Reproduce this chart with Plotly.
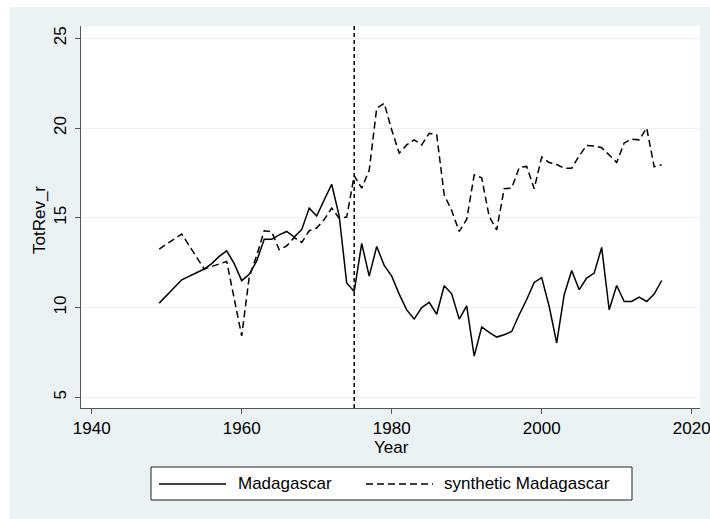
import plotly.graph_objects as go

years = [1949, 1952, 1955, 1956, 1957, 1958, 1959, 1960, 1961, 1962, 1963, 1964,
         1965, 1966, 1967, 1968, 1969, 1970, 1971, 1972, 1973, 1974, 1975, 1976,
         1977, 1978, 1979, 1980, 1981, 1982, 1983, 1984, 1985, 1986, 1987, 1988,
         1989, 1990, 1991, 1992, 1993, 1994, 1995, 1996, 1997, 1998, 1999, 2000,
         2001, 2002, 2003, 2004, 2005, 2006, 2007, 2008, 2009, 2010, 2011, 2012,
         2013, 2014, 2015, 2016]

madagascar = [10.25, 11.55, 12.15, 12.45, 12.85, 13.16, 12.45, 11.5, 11.85, 12.6, 13.8, 13.8,
              14.05, 14.24, 13.93, 14.34, 15.54, 15.1, 16.0, 16.87, 15.1, 11.37, 10.9, 13.57,
              11.75, 13.4, 12.35, 11.75, 10.75, 9.87, 9.36, 10.0, 10.29, 9.63, 11.22, 10.77,
              9.36, 10.1, 7.3, 8.92, 8.62, 8.36, 8.49, 8.67, 9.6, 10.45, 11.4, 11.67,
              10.06, 8.03, 10.72, 12.07, 11.0, 11.64, 11.92, 13.35, 9.88, 11.23, 10.34, 10.34,
              10.59, 10.34, 10.75, 11.51]

synthetic = [13.26, 14.1, 12.15, 12.3, 12.45, 12.57, 10.5, 8.43, 11.7, 12.9, 14.28, 14.22,
             13.22, 13.44, 13.9, 13.63, 14.28, 14.43, 14.9, 15.54, 14.98, 15.04, 17.35, 16.65,
             17.65, 21.1, 21.38, 19.9, 18.6, 19.06, 19.34, 19.06, 19.71, 19.62, 16.28, 15.4,
             14.24, 14.91, 17.39, 17.23, 15.07, 14.33, 16.62, 16.65, 17.8, 17.86, 16.62, 18.38,
             18.08, 17.97, 17.76, 17.76, 18.45, 19.03, 19.0, 18.9, 18.5, 18.08, 19.17, 19.38,
             19.34, 20.0, 17.84, 17.95]

series_names = ["Madagascar", "synthetic Madagascar"]
treatment_year = 1975
x_ticks = [1940, 1960, 1980, 2000, 2020]
y_ticks = [5, 10, 15, 20, 25]
x_title = "Year"
y_title = "TotRev_r"

W, H = 710, 519
L, R, T, B = 81, 700, 26, 408
PW, PH = R - L, B - T


def px(x):  # window pixel x -> paper
    return (x - L) / PW


def py(y):  # window pixel y -> paper
    return (B - y) / PH


BG = "#EAF2F3"
FONT = "Liberation Sans, Arial, sans-serif"

fig = go.Figure()
fig.add_trace(go.Scatter(x=years, y=madagascar, mode="lines", name=series_names[0],
                         line=dict(color="black", width=1.5), showlegend=False))
fig.add_trace(go.Scatter(x=years, y=synthetic, mode="lines", name=series_names[1],
                         line=dict(color="black", width=1.5, dash="7px,4px"), showlegend=False))

shapes = [
    dict(type="line", xref="x", yref="paper", x0=treatment_year, x1=treatment_year, y0=0, y1=1,
         line=dict(color="black", width=1.5, dash="4px,3px")),
    # white outer frame strips (left and top)
    dict(type="rect", xref="paper", yref="paper", x0=px(-2), x1=px(10), y0=py(H + 2), y1=py(-2),
         fillcolor="white", line=dict(width=0)),
    dict(type="rect", xref="paper", yref="paper", x0=px(-2), x1=px(W + 2), y0=py(7), y1=py(-2),
         fillcolor="white", line=dict(width=0)),
    # legend box
    dict(type="rect", xref="paper", yref="paper", x0=px(151), x1=px(632), y0=py(500), y1=py(467),
         fillcolor="white", line=dict(color="#222222", width=1)),
    dict(type="line", xref="paper", yref="paper", x0=px(159), x1=px(226), y0=py(484), y1=py(484),
         line=dict(color="black", width=1.5)),
    dict(type="line", xref="paper", yref="paper", x0=px(366), x1=px(433), y0=py(484), y1=py(484),
         line=dict(color="black", width=1.5, dash="7px,4px")),
]

annotations = [
    dict(text=series_names[0], xref="paper", yref="paper", x=px(236), y=py(484),
         xanchor="left", yanchor="middle", showarrow=False, font=dict(size=17, color="black", family=FONT)),
    dict(text=series_names[1], xref="paper", yref="paper", x=px(442), y=py(484),
         xanchor="left", yanchor="middle", showarrow=False, font=dict(size=17, color="black", family=FONT)),
    dict(text=x_title, xref="paper", yref="paper", x=px(391), y=py(448),
         xanchor="center", yanchor="middle", showarrow=False, font=dict(size=17, color="black", family=FONT)),
    dict(text=y_title, xref="paper", yref="paper", x=px(39), y=py(220), textangle=-90,
         xanchor="center", yanchor="middle", showarrow=False, font=dict(size=17, color="black", family=FONT)),
]

fig.update_layout(
    width=W, height=H,
    margin=dict(l=L, r=W - R, t=T, b=H - B, pad=0, autoexpand=False),
    paper_bgcolor=BG, plot_bgcolor="white",
    font=dict(family=FONT, size=17, color="black"),
    shapes=shapes, annotations=annotations,
    showlegend=False,
)
fig.update_xaxes(range=[1938.57, 2021.11], tickvals=x_ticks, showgrid=False, zeroline=False,
                 showline=True, linecolor="#555555", linewidth=1, ticks="outside", ticklen=5,
                 tickcolor="#555555", tickfont=dict(size=17), ticklabeloverflow="allow",
                 automargin=False)
fig.update_yaxes(range=[4.41, 25.68], tickvals=y_ticks, showgrid=True, gridcolor=BG, gridwidth=1,
                 zeroline=False, showline=True, linecolor="#555555", linewidth=1, ticks="outside",
                 ticklen=5, tickcolor="#555555", tickangle=-90, tickfont=dict(size=17),
                 ticklabelstandoff=2, automargin=False)

fig.write_html("out.html",
               config={"displayModeBar": False, "staticPlot": True},
               post_script="document.body.style.margin='0';document.body.style.overflow='hidden';")
